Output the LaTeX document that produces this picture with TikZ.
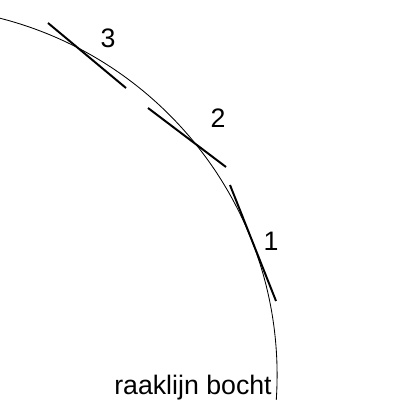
\documentclass[tikz,border=0pt]{standalone}
\usepackage{fontspec}
\setmainfont{Liberation Sans}
\begin{document}
\begin{tikzpicture}
  [x=0.025cm,y=-0.025cm,every node/.style={font=\fontsize{19}{22}\selectfont,inner sep=0pt},
   raak/.style={line width=1.4pt}]
  \useasboundingbox (0,0) rectangle (400,400);
  \clip (0,0) rectangle (400,400);
  \coordinate (m) at (-91,375);
  \draw[line width=0.6pt] (m) circle [radius=9.2cm];

  \coordinate (a1) at (230,185); \coordinate (b1) at (276,301);
  \coordinate (a2) at (148,108); \coordinate (b2) at (226,167);
  \coordinate (a3) at (48,23);   \coordinate (b3) at (126,88);
  \foreach \i in {1,2,3}
    \draw[raak] (a\i) -- (b\i);

  \node (n1) at (271,241) {1};
  \node (n2) at (218,118) {2};
  \node (n3) at (108,38)  {3};
  \node[anchor=base west] (tekst) at (114,394) {raaklijn bocht};
\end{tikzpicture}
\end{document}
